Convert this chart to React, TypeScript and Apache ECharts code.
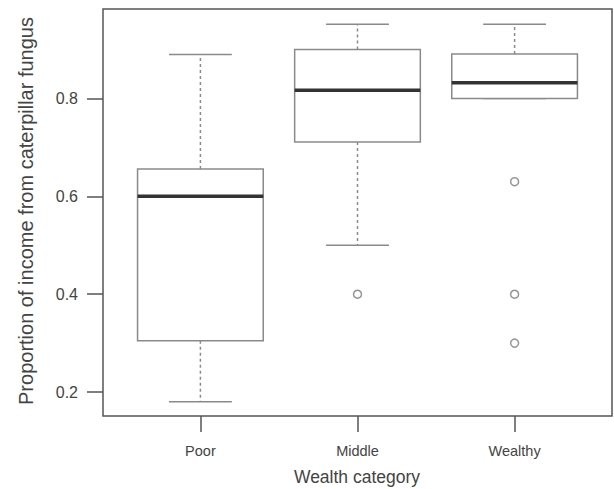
import React, { useEffect, useRef } from "react";
import * as echarts from "echarts";

const categories = ["Poor", "Middle", "Wealthy"];
// [lowerWhisker, q1, median, q3, upperWhisker]
const boxStats = [
  [0.18, 0.305, 0.6, 0.656, 0.89],
  [0.5, 0.711, 0.817, 0.9, 0.952],
  [0.8, 0.8, 0.832, 0.891, 0.952],
];
const outliers = [
  [2, 0.4],
  [3, 0.63],
  [3, 0.4],
  [3, 0.3],
];
const yTicks = [0.2, 0.4, 0.6, 0.8];
const xTicks = [1, 2, 3];

export default function App() {
  const ref = useRef<HTMLDivElement>(null);
  useEffect(() => {
    if (!ref.current) return;
    const chart = echarts.init(ref.current, null, { renderer: "svg" });
    const boxData = boxStats.map((s, i) => [i + 1, ...s]);
    const boxColor = "#8a8a8a";
    const textColor = "#444";
    chart.setOption({
      animation: false,
      backgroundColor: "#fff",
      grid: {
        left: 103,
        right: 2,
        top: 9,
        bottom: 73,
        show: true,
        borderColor: "#555",
        borderWidth: 1.5,
        backgroundColor: "transparent",
      },
      xAxis: {
        type: "value",
        min: 0.38,
        max: 3.62,
        splitLine: { show: false },
        axisLine: { show: false },
        axisTick: {
          show: true,
          customValues: xTicks,
          length: 16,
          lineStyle: { color: "#555", width: 1.5 },
        },
        axisLabel: {
          customValues: xTicks,
          formatter: (v: number) => categories[Math.round(v) - 1] ?? "",
          margin: 27,
          fontFamily: "Liberation Sans, Arial, sans-serif",
          fontSize: 14.5,
          color: textColor,
        },
      },
      yAxis: {
        type: "value",
        min: 0.151,
        max: 0.983,
        splitLine: { show: false },
        axisLine: { show: false },
        axisTick: {
          show: true,
          customValues: yTicks,
          length: 16,
          lineStyle: { color: "#555", width: 1.5 },
        },
        axisLabel: {
          customValues: yTicks,
          formatter: (v: number) => v.toFixed(1),
          margin: 25,
          fontFamily: "Liberation Sans, Arial, sans-serif",
          fontSize: 16,
          color: textColor,
        },
      },
      graphic: [
        {
          type: "text",
          x: 26,
          y: 211,
          rotation: Math.PI / 2,
          style: {
            text: "Proportion of income from caterpillar fungus",
            fontFamily: "Liberation Sans, Arial, sans-serif",
            fontSize: 20,
            fill: textColor,
            textAlign: "center",
            textVerticalAlign: "middle",
          },
        },
        {
          type: "text",
          x: 357,
          y: 477,
          style: {
            text: "Wealth category",
            fontFamily: "Liberation Sans, Arial, sans-serif",
            fontSize: 17.5,
            fill: textColor,
            textAlign: "center",
            textVerticalAlign: "middle",
          },
        },
      ],
      series: [
        {
          type: "custom",
          data: boxData,
          encode: { x: 0, y: [1, 2, 3, 4, 5] },
          renderItem: (params: any, api: any) => {
            const x = api.value(0);
            const lo = api.value(1);
            const q1 = api.value(2);
            const med = api.value(3);
            const q3 = api.value(4);
            const hi = api.value(5);
            const half = 0.4;
            const capHalf = 0.2;
            const pL = api.coord([x - half, q3]);
            const pR = api.coord([x + half, q1]);
            const c = api.coord([x, med]);
            const pLo = api.coord([x, lo]);
            const pHi = api.coord([x, hi]);
            const pQ1 = api.coord([x, q1]);
            const pQ3 = api.coord([x, q3]);
            const capL = api.coord([x - capHalf, 0])[0];
            const capR = api.coord([x + capHalf, 0])[0];
            const lineStyle = { stroke: boxColor, lineWidth: 1.5, fill: null };
            const dashStyle = { stroke: boxColor, lineWidth: 1.5, lineDash: [3, 3], fill: null };
            return {
              type: "group",
              children: [
                { type: "line", shape: { x1: c[0], y1: pQ3[1], x2: c[0], y2: pHi[1] }, style: dashStyle },
                { type: "line", shape: { x1: c[0], y1: pQ1[1], x2: c[0], y2: pLo[1] }, style: dashStyle },
                { type: "line", shape: { x1: capL, y1: pHi[1], x2: capR, y2: pHi[1] }, style: lineStyle },
                { type: "line", shape: { x1: capL, y1: pLo[1], x2: capR, y2: pLo[1] }, style: lineStyle },
                {
                  type: "rect",
                  shape: { x: pL[0], y: pL[1], width: pR[0] - pL[0], height: pR[1] - pL[1] },
                  style: { stroke: boxColor, lineWidth: 1.5, fill: "#fff" },
                },
                {
                  type: "line",
                  shape: { x1: pL[0], y1: c[1], x2: pR[0], y2: c[1] },
                  style: { stroke: "#333", lineWidth: 3.5 },
                },
              ],
            };
          },
        },
        {
          type: "scatter",
          data: outliers,
          symbol: "circle",
          symbolSize: 8,
          itemStyle: { color: "#fff", borderColor: "#7a7a7a", borderWidth: 1.5 },
        },
      ],
    });
    return () => chart.dispose();
  }, []);
  return <div ref={ref} style={{ width: 614, height: 489, position: "absolute", left: 0, top: 0 }} />;
}
